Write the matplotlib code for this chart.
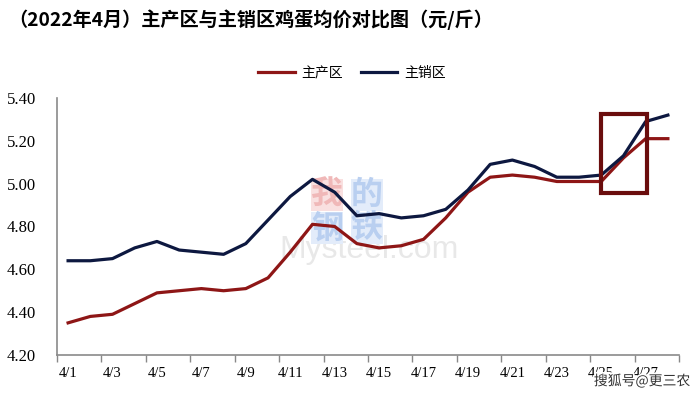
import matplotlib
matplotlib.use("Agg")
import matplotlib.pyplot as plt
from matplotlib.patches import Rectangle
import matplotlib.patheffects as pe

dates = ["4/1", "4/2", "4/3", "4/4", "4/5", "4/6", "4/7", "4/8", "4/9", "4/10",
         "4/11", "4/12", "4/13", "4/14", "4/15", "4/16", "4/17", "4/18", "4/19", "4/20",
         "4/21", "4/22", "4/23", "4/24", "4/25", "4/26", "4/27", "4/28"]
producing = [4.35, 4.38, 4.39, 4.44, 4.49, 4.50, 4.51, 4.50, 4.51, 4.56,
             4.68, 4.81, 4.80, 4.72, 4.70, 4.71, 4.74, 4.84, 4.96, 5.03,
             5.04, 5.03, 5.01, 5.01, 5.01, 5.12, 5.21, 5.21]
selling = [4.64, 4.64, 4.65, 4.70, 4.73, 4.69, 4.68, 4.67, 4.72, 4.83,
           4.94, 5.02, 4.96, 4.85, 4.86, 4.84, 4.85, 4.88, 4.97, 5.09,
           5.11, 5.08, 5.03, 5.03, 5.04, 5.13, 5.29, 5.32]
yticks = [4.20, 4.40, 4.60, 4.80, 5.00, 5.20, 5.40]
series_names = ["主产区", "主销区"]
title = "（2022年4月）主产区与主销区鸡蛋均价对比图（元/斤）"

cjk = ["Noto Sans CJK SC", "DejaVu Sans"]
serif = ["Liberation Serif", "DejaVu Serif"]

fig = plt.figure(figsize=(7.0, 3.95), dpi=100)
ax = fig.add_axes([0.0814, 0.1013, 0.8886, 0.6507])

x = list(range(len(dates)))
RED = "#8e1616"
BLUE = "#0d1840"

# watermark (Mysteel) drawn below the lines
ax.text(0.527, 0.367, "Mysteel.com", fontsize=23, color="#e8e8e8",
        family=["Liberation Sans", "DejaVu Sans"], ha="center", va="center",
        transform=fig.transFigure, zorder=1)
wm = [("我", 0.467, 0.506, "#f0b8b8", "#f9e0e0"),
      ("的", 0.524, 0.506, "#b9cff0", "#e3ecfa"),
      ("钢", 0.467, 0.422, "#b9cff0", "#e3ecfa"),
      ("铁", 0.524, 0.422, "#b9cff0", "#e3ecfa")]
for ch, fx, fy, col, bg in wm:
    ax.text(fx, fy, ch, fontsize=23, color=col, family=cjk, weight="bold",
            ha="center", va="center", transform=fig.transFigure, zorder=1,
            bbox=dict(boxstyle="square,pad=0.0", fc=bg, ec="none"))

ax.plot(x, producing, color=RED, lw=2.3, label=series_names[0], zorder=3)
ax.plot(x, selling, color=BLUE, lw=2.3, label=series_names[1], zorder=3)

ax.add_patch(Rectangle((24.0, 4.955), 2.05, 0.37, fill=False, ec="#6a0d0d",
                       lw=3.0, zorder=4))

ax.set_xlim(-0.5, len(dates) - 0.5)
ax.set_ylim(4.2, 5.4)
ax.set_yticks(yticks)
ax.set_yticklabels([f"{v:.2f}" for v in yticks], family=serif, fontsize=12)
ax.tick_params(axis="y", length=0, pad=15)

ax.set_xticks([i - 0.5 for i in range(0, len(dates) + 1, 2)])
ax.set_xticklabels([])
ax.tick_params(axis="x", which="major", length=5, color="#888888", width=1)
ax.set_xticks(x[::2], minor=True)
ax.set_xticklabels(dates[::2], minor=True, family=serif, fontsize=10.5)
ax.tick_params(axis="x", which="minor", length=0, pad=9)

for s in ["top", "right"]:
    ax.spines[s].set_visible(False)
for s in ["left", "bottom"]:
    ax.spines[s].set_color("#8a8a8a")
    ax.spines[s].set_linewidth(1.2)
ax.patch.set_alpha(0)

fig.text(0.012, 0.949, title, fontsize=13.8, weight="bold", family=cjk,
         ha="left", va="center")

fig.legend(loc="center", bbox_to_anchor=(0.503, 0.815), ncol=2, frameon=False,
           prop=dict(family=cjk, size=10), handlelength=2.6, columnspacing=1.3,
           handletextpad=0.5)

fig.text(0.986, 0.035, "搜狐号@更三农", fontsize=10, color="#333333", family=cjk,
         ha="right", va="center", zorder=10,
         path_effects=[pe.withStroke(linewidth=2.5, foreground="white")])

fig.savefig("out.png", dpi=100)
